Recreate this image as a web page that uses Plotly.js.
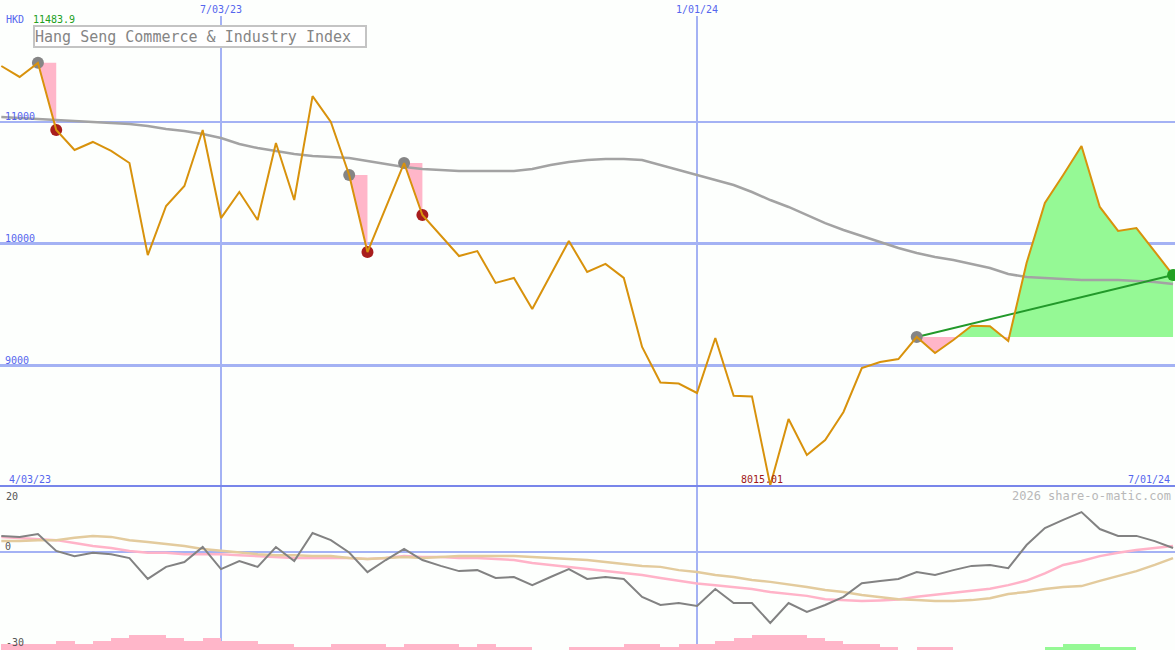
<!DOCTYPE html>
<html>
<head>
<meta charset="utf-8">
<script src="https://cdn.plot.ly/plotly-3.0.1.min.js"></script>
<style>
  html, body { margin: 0; padding: 0; background: #fdfffd; }
  #chart { width: 1175px; height: 650px; }
</style>
</head>
<body>
<div id="chart"></div>
<script>
// ---------- DATA ----------
const dates = [
  '2023-04-10','2023-04-17','2023-04-24','2023-05-01','2023-05-08','2023-05-15','2023-05-22','2023-05-29',
  '2023-06-05','2023-06-12','2023-06-19','2023-06-26','2023-07-03','2023-07-10','2023-07-17','2023-07-24',
  '2023-07-31','2023-08-07','2023-08-14','2023-08-21','2023-08-28','2023-09-04','2023-09-11','2023-09-18',
  '2023-09-25','2023-10-02','2023-10-09','2023-10-16','2023-10-23','2023-10-30','2023-11-06','2023-11-13',
  '2023-11-20','2023-11-27','2023-12-04','2023-12-11','2023-12-18','2023-12-25','2024-01-01','2024-01-08',
  '2024-01-15','2024-01-22','2024-01-29','2024-02-05','2024-02-12','2024-02-19','2024-02-26','2024-03-04',
  '2024-03-11','2024-03-18','2024-03-25','2024-04-01','2024-04-08','2024-04-15','2024-04-22','2024-04-29',
  '2024-05-06','2024-05-13','2024-05-20','2024-05-27','2024-06-03','2024-06-10','2024-06-17','2024-06-24',
  '2024-07-01'
];
const price = [
  11458, 11368, 11483.9, 10932, 10768, 10834, 10760, 10661, 9905, 10308,
  10472, 10932, 10209, 10423, 10193, 10825, 10357, 11211, 10998, 10563,
  9930, 10292, 10661, 10234, 10070, 9897, 9938, 9676, 9717, 9462,
  9741, 10021, 9766, 9832, 9717, 9150, 8858, 8850, 8772, 9224,
  8750, 8744, 8015.01, 8559, 8263, 8386, 8616, 8977, 9027, 9051,
  9232, 9101, 9207, 9325, 9320, 9199, 9840, 10333, 10563, 10801,
  10300, 10103, 10127, 9938, 9741
];
const movingAvg = [
  11039, 11031, 11023, 11014, 11006, 10998, 10990, 10981, 10965, 10940,
  10924, 10899, 10867, 10817, 10784, 10760, 10735, 10719, 10710, 10702,
  10678, 10653, 10628, 10612, 10604, 10595, 10595, 10595, 10595, 10612,
  10645, 10669, 10686, 10694, 10694, 10686, 10645, 10604, 10563, 10522,
  10480, 10423, 10357, 10300, 10234, 10168, 10111, 10062, 10012, 9963,
  9922, 9889, 9864, 9832, 9799, 9749, 9725, 9717, 9708, 9700,
  9700, 9700, 9692, 9684, 9667
];
const momentum = [
  5.0, 4.7, 5.6, 0.4, -1.2, -0.2, -0.6, -1.8, -8.2, -4.5,
  -3.0, 1.6, -5.2, -2.7, -4.5, 1.6, -2.7, 5.9, 3.7, -0.1,
  -6.1, -2.4, 1.0, -2.4, -4.2, -5.8, -5.5, -7.9, -7.6, -10.1,
  -7.6, -5.2, -8.2, -7.6, -8.2, -13.7, -16.2, -15.6, -16.5, -11.3,
  -15.6, -15.6, -21.7, -15.6, -18.3, -16.2, -13.7, -9.5, -8.8, -8.2,
  -6.1, -7.0, -5.5, -4.2, -3.9, -4.9, 2.2, 7.4, 9.9, 12.3,
  7.1, 5.0, 5.0, 3.4, 1.3
];
const momentumFast = [
  4.7, 4.4, 4.0, 3.7, 2.8, 1.9, 1.3, 0.4, -0.2, -0.2,
  -0.6, -0.6, -0.6, -0.9, -1.2, -1.5, -1.8, -1.8, -1.8, -1.8,
  -2.1, -1.8, -1.2, -1.5, -1.5, -1.8, -1.8, -2.1, -2.4, -3.3,
  -3.9, -4.5, -5.2, -5.8, -6.4, -7.0, -7.9, -8.8, -9.6, -10.1,
  -10.7, -11.3, -12.2, -12.8, -13.4, -14.4, -14.8, -15.0, -14.8, -14.5,
  -13.7, -13.1, -12.5, -11.8, -11.2, -10.1, -8.7, -6.5, -3.9, -2.7,
  -1.2, -0.2, 0.7, 1.3, 1.9
];
const momentumSlow = [
  3.4, 3.4, 3.7, 3.7, 4.4, 5.0, 4.7, 3.7, 3.1, 2.5,
  1.9, 1.0, 0.4, -0.2, -0.6, -0.9, -0.9, -1.2, -1.2, -1.8,
  -2.1, -1.8, -1.5, -1.8, -1.5, -1.2, -1.2, -1.2, -1.2, -1.5,
  -1.8, -2.1, -2.4, -3.0, -3.6, -4.2, -4.5, -5.5, -6.1, -7.0,
  -7.6, -8.5, -9.1, -9.8, -10.7, -11.6, -12.2, -13.1, -13.7, -14.4,
  -14.7, -15.0, -15.0, -14.7, -14.1, -12.8, -12.2, -11.3, -10.7, -10.4,
  -8.8, -7.3, -5.8, -3.9, -1.8
];
const barsDown = [
  1.8, 1.8, 1.8, 2.8, 1.8, 2.8, 3.7, 4.6, 4.6, 3.7,
  2.8, 3.7, 2.8, 2.8, 1.8, 1.8, 0.9, 0.9, 1.8, 1.8,
  1.8, 0.9, 1.8, 1.8, 1.8, 0.9, 1.8, 0.9, 0.9, 0,
  0, 0.9, 0.9, 0.9, 1.8, 1.8, 0.9, 1.8, 1.8, 2.8,
  3.7, 4.6, 4.6, 4.6, 3.7, 2.8, 1.8, 1.8, 0.9, 0,
  0.9, 0.9, 0, 0, 0, 0, 0, 0, 0, 0,
  0, 0, 0, 0, 0
];
const barsUp = [
  0, 0, 0, 0, 0, 0, 0, 0, 0, 0,
  0, 0, 0, 0, 0, 0, 0, 0, 0, 0,
  0, 0, 0, 0, 0, 0, 0, 0, 0, 0,
  0, 0, 0, 0, 0, 0, 0, 0, 0, 0,
  0, 0, 0, 0, 0, 0, 0, 0, 0, 0,
  0, 0, 0, 0, 0, 0, 0, 0.9, 1.8, 1.8,
  0.9, 0.9, 0, 0, 0
];
const xTickVals = ['2023-07-03', '2024-01-01'];
const xTickText = ['7/03/23', '1/01/24'];
const yTickVals = [9000, 10000, 11000];
const yTickText = ['9000', '10000', '11000'];
const fallPairs = [[2, 3], [19, 20], [22, 23]];   // [signal index, drop index]
const trendStart = 50;
const chartTitle = 'Hang Seng Commerce & Industry Index';
const currency = 'HKD';
const startLabel = '4/03/23';
const endLabel = '7/01/24';
const credit = '2026 share-o-matic.com';

// ---------- STYLE ----------
const BG = '#fdfffd';
const GRID = '#a4b2f4';
const BLUE_TXT = '#5566ee';
const MONO = '"DejaVu Sans Mono", "Liberation Mono", monospace';
const PINK = '#ffb6c9';
const LGREEN = '#95f995';

// ---------- BUILD ----------
const traces = [];

// fall triangles
const tri = {x: [], y: []};
fallPairs.forEach(([a, b]) => {
  tri.x.push(dates[a], dates[b], dates[b], null);
  tri.y.push(price[a], price[a], price[b], null);
});
traces.push({x: tri.x, y: tri.y, type: 'scatter', mode: 'lines', fill: 'toself',
  fillcolor: PINK, line: {width: 0, color: PINK}, xaxis: 'x', yaxis: 'y'});

// regions relative to trend start level
const base = price[trendStart];
const pts = [];
for (let i = trendStart; i < dates.length; i++) {
  const t = Date.parse(dates[i]);
  pts.push({t: t, v: price[i]});
  if (i < dates.length - 1) {
    const v1 = price[i], v2 = price[i + 1];
    if ((v1 - base) * (v2 - base) < 0) {
      const t2 = Date.parse(dates[i + 1]);
      pts.push({t: t + (base - v1) / (v2 - v1) * (t2 - t), v: base});
    }
  }
}
const runs = [];
let run = [pts[0]];
for (let i = 1; i < pts.length; i++) {
  run.push(pts[i]);
  if (pts[i].v === base && i < pts.length - 1) { runs.push(run); run = [pts[i]]; }
}
runs.push(run);
const posPoly = {x: [], y: []}, negPoly = {x: [], y: []};
runs.forEach(r => {
  let s = 0; r.forEach(p => s += p.v - base);
  const tgt = s >= 0 ? posPoly : negPoly;
  r.forEach(p => { tgt.x.push(p.t); tgt.y.push(p.v); });
  tgt.x.push(r[r.length - 1].t, r[0].t, null);
  tgt.y.push(base, base, null);
});
traces.push({x: posPoly.x, y: posPoly.y, type: 'scatter', mode: 'lines', fill: 'toself',
  fillcolor: LGREEN, line: {width: 0, color: LGREEN}, xaxis: 'x', yaxis: 'y'});
traces.push({x: negPoly.x, y: negPoly.y, type: 'scatter', mode: 'lines', fill: 'toself',
  fillcolor: PINK, line: {width: 0, color: PINK}, xaxis: 'x', yaxis: 'y'});

// moving average (drawn over the fills)
traces.push({x: dates, y: movingAvg, type: 'scatter', mode: 'lines',
  line: {color: '#a3a3a3', width: 2.5}, xaxis: 'x', yaxis: 'y'});

// trend line
const last = dates.length - 1;
traces.push({x: [dates[trendStart], dates[last]], y: [price[trendStart], price[last]],
  type: 'scatter', mode: 'lines', line: {color: '#22992a', width: 2}, xaxis: 'x', yaxis: 'y'});

// signal dots
const greyIdx = fallPairs.map(p => p[0]).concat([trendStart]);
const redIdx = fallPairs.map(p => p[1]);
traces.push({x: greyIdx.map(i => dates[i]), y: greyIdx.map(i => price[i]), type: 'scatter',
  mode: 'markers', marker: {color: '#858585', size: 12}, xaxis: 'x', yaxis: 'y'});
traces.push({x: redIdx.map(i => dates[i]), y: redIdx.map(i => price[i]), type: 'scatter',
  mode: 'markers', marker: {color: '#a81d1d', size: 12}, xaxis: 'x', yaxis: 'y'});

// price
traces.push({x: dates, y: price, type: 'scatter', mode: 'lines',
  line: {color: '#d8920c', width: 2}, xaxis: 'x', yaxis: 'y'});

// end dot
traces.push({x: [dates[last]], y: [price[last]], type: 'scatter', mode: 'markers',
  marker: {color: '#22a022', size: 12}, xaxis: 'x', yaxis: 'y'});

// lower panel bars
const WEEK = 7 * 86400000;
traces.push({x: dates, y: barsDown, base: -30, type: 'bar', width: WEEK, offset: 0,
  marker: {color: PINK, line: {width: 0}}, xaxis: 'x2', yaxis: 'y2'});
traces.push({x: dates, y: barsUp, base: -30, type: 'bar', width: WEEK, offset: 0,
  marker: {color: LGREEN, line: {width: 0}}, xaxis: 'x2', yaxis: 'y2'});

// lower panel lines
traces.push({x: dates, y: momentumFast, type: 'scatter', mode: 'lines',
  line: {color: '#ffb3c8', width: 2.5}, xaxis: 'x2', yaxis: 'y2'});
traces.push({x: dates, y: momentumSlow, type: 'scatter', mode: 'lines',
  line: {color: '#e3cb9d', width: 2.5}, xaxis: 'x2', yaxis: 'y2'});
traces.push({x: dates, y: momentum, type: 'scatter', mode: 'lines',
  line: {color: '#828282', width: 2}, xaxis: 'x2', yaxis: 'y2'});

// ---------- LAYOUT ----------
const W = 1175, H = 650, TOP = 16;
const PH = H - TOP;
const lowerH = 163;
const split = lowerH / PH;
const px2py = py => (H - py) / PH;
const px2x = px => px / W;
const xRange = ['2023-04-09 12:00', '2024-07-01 18:00'];
const yMainMax = 8000 + (487 - TOP) * (4000 / 487);

const layout = {
  width: W, height: H,
  margin: {l: 0, r: 0, t: TOP, b: 0, pad: 0},
  paper_bgcolor: BG, plot_bgcolor: BG,
  showlegend: false, hovermode: false,
  font: {family: MONO, size: 10, color: BLUE_TXT},
  xaxis: {
    type: 'date', range: xRange, domain: [0, 1], anchor: 'y', side: 'top',
    tickmode: 'array', tickvals: xTickVals, ticktext: xTickText, ticks: '',
    showgrid: true, gridcolor: GRID, gridwidth: 1.6, zeroline: false, showline: false,
    tickfont: {family: MONO, size: 10, color: BLUE_TXT}, fixedrange: true
  },
  xaxis2: {
    type: 'date', range: xRange, domain: [0, 1], anchor: 'y2', side: 'top', matches: 'x',
    tickmode: 'array', tickvals: xTickVals, ticks: '', showticklabels: false,
    showgrid: true, gridcolor: GRID, gridwidth: 1.6, zeroline: false,
    showline: true, linecolor: '#7886ea', linewidth: 2.5, fixedrange: true
  },
  yaxis: {
    domain: [split, 1], range: [8000, yMainMax], anchor: 'x',
    tickmode: 'array', tickvals: yTickVals, ticktext: yTickText, ticks: '',
    ticklabelposition: 'inside top', ticklabelstandoff: 2, ticklabelshift: 2,
    showgrid: true, gridcolor: GRID, gridwidth: 2.5,
    zeroline: false, showline: false,
    tickfont: {family: MONO, size: 10, color: BLUE_TXT}, fixedrange: true
  },
  yaxis2: {
    domain: [0, split], range: [-30, 20], anchor: 'x2',
    tickmode: 'array', tickvals: [0], ticktext: ['0'], ticks: '',
    ticklabelposition: 'inside top', ticklabelstandoff: 2, ticklabelshift: 1,
    showgrid: true, gridcolor: GRID, gridwidth: 2.5,
    zeroline: false, showline: false,
    tickfont: {family: MONO, size: 10, color: '#555555'}, fixedrange: true
  },
  bargap: 0,
  annotations: [
    {xref: 'paper', yref: 'paper', x: px2x(4), y: px2py(20), xanchor: 'left', yanchor: 'middle',
      text: currency, showarrow: false, font: {family: MONO, size: 10, color: BLUE_TXT}},
    {xref: 'paper', yref: 'paper', x: px2x(31), y: px2py(20), xanchor: 'left', yanchor: 'middle',
      text: String(Math.max(...price)), showarrow: false, font: {family: MONO, size: 10, color: '#22a022'}},
    {xref: 'paper', yref: 'paper', x: px2x(33), y: px2py(25), xanchor: 'left', yanchor: 'top',
      text: chartTitle, showarrow: false, align: 'left', width: 330, height: 19,
      bordercolor: '#c4c4c4', borderwidth: 2, borderpad: 0, bgcolor: '#ffffff',
      font: {family: MONO, size: 15, color: '#858585'}},
    {xref: 'paper', yref: 'paper', x: px2x(7), y: px2py(479), xanchor: 'left', yanchor: 'middle',
      text: startLabel, showarrow: false, font: {family: MONO, size: 10, color: BLUE_TXT}},
    {xref: 'paper', yref: 'paper', x: px2x(1172), y: px2py(479), xanchor: 'right', yanchor: 'middle',
      text: endLabel, showarrow: false, font: {family: MONO, size: 10, color: BLUE_TXT}},
    {xref: 'x', yref: 'paper', x: dates[price.indexOf(Math.min(...price))], xshift: -8,
      y: px2py(479), xanchor: 'center', yanchor: 'middle',
      text: String(Math.min(...price)), showarrow: false, font: {family: MONO, size: 10, color: '#a01818'}},
    {xref: 'paper', yref: 'paper', x: px2x(1173), y: px2py(496), xanchor: 'right', yanchor: 'middle',
      text: credit, showarrow: false, font: {family: MONO, size: 12, color: '#b8b8b8'}},
    {xref: 'paper', yref: 'paper', x: px2x(4), y: px2py(496), xanchor: 'left', yanchor: 'middle',
      text: '20', showarrow: false, font: {family: MONO, size: 10, color: '#555555'}},
    {xref: 'paper', yref: 'paper', x: px2x(4), y: px2py(642), xanchor: 'left', yanchor: 'middle',
      text: '-30', showarrow: false, font: {family: MONO, size: 10, color: '#555555'}}
  ]
};

Plotly.newPlot('chart', traces, layout, {staticPlot: true, displayModeBar: false});
</script>
</body>
</html>
